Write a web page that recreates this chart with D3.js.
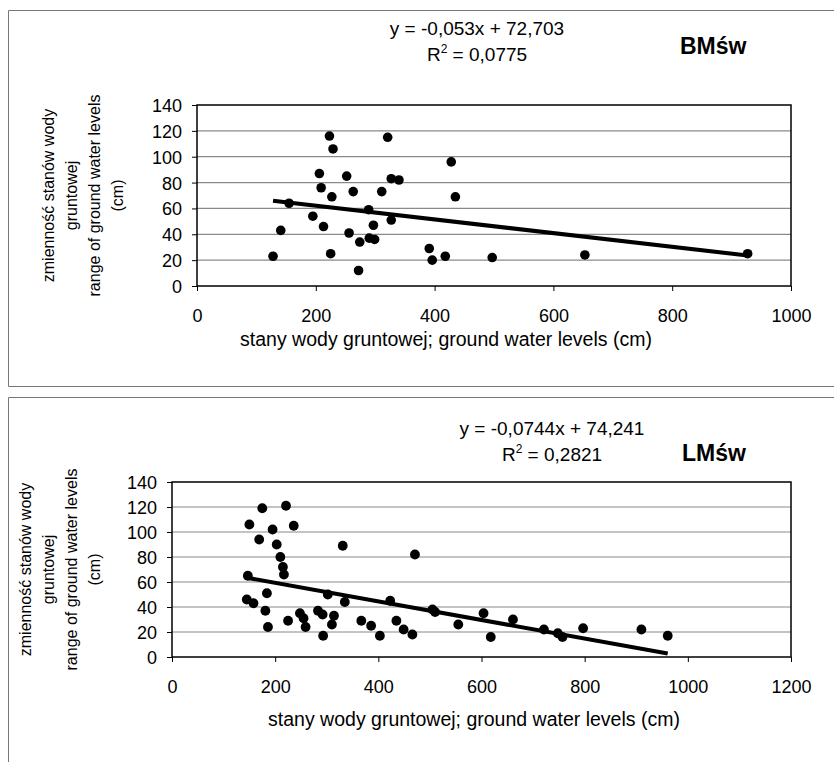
<!DOCTYPE html>
<html>
<head>
<meta charset="utf-8">
<script src="https://cdn.jsdelivr.net/npm/d3@7"></script>
<style>
  body { margin: 0; background: #fff; }
  text { font-family: "Liberation Sans", Arial, sans-serif; fill: #000; }
</style>
</head>
<body>
<svg id="chart" width="834" height="762"></svg>
<script>
// BMśw series: ground water level (cm) vs range of levels (cm)
const bmX = [223, 321, 229, 428, 206, 252, 327, 340, 209, 263, 311, 227, 435, 155, 289, 195, 327,
             213, 141, 297, 256, 274, 290, 299, 391, 128, 225, 396, 418, 497, 272, 653, 927];
const bmY = [116, 115, 106, 96, 87, 85, 83, 82, 76, 73, 73, 69, 69, 64, 59, 54, 51,
             46, 43, 47, 41, 34, 37, 36, 29, 23, 25, 20, 23, 22, 12, 24, 25];
const bmSlope = -0.053, bmIntercept = 72.703;
const bmEq = ["y = -0,053x + 72,703", "0,0775"];

// LMśw series
const lmX = [175, 221, 150, 236, 195, 169, 203, 331, 471, 210, 215, 217, 147, 184, 302, 335, 423,
             145, 158, 505, 510, 181, 248, 283, 292, 314, 255, 225, 367, 435, 604, 310, 386, 555,
             259, 186, 449, 466, 293, 403, 618, 661, 721, 748, 757, 797, 910, 961];
const lmY = [119, 121, 106, 105, 102, 94, 90, 89, 82, 80, 72, 66, 65, 51, 50, 44, 45,
             46, 43, 38, 36, 37, 35, 37, 34, 33, 31, 29, 29, 29, 35, 26, 25, 26,
             24, 24, 22, 18, 17, 17, 16, 30, 22, 19, 16, 23, 22, 17];
const lmSlope = -0.0744, lmIntercept = 74.241;
const lmEq = ["y = -0,0744x + 74,241", "0,2821"];

const yTicks = [0, 20, 40, 60, 80, 100, 120, 140];
const bmXTicks = [0, 200, 400, 600, 800, 1000];
const lmXTicks = [0, 200, 400, 600, 800, 1000, 1200];

const yLabel = ["zmienność stanów wody", "gruntowej", "range of ground water levels", "(cm)"];
const xLabel = "stany wody gruntowej; ground water levels (cm)";

const svg = d3.select("#chart");

// scanned page frames
const frame = svg.append("g").attr("stroke", "#777").attr("stroke-width", 1).attr("fill", "none");
frame.append("path").attr("d", "M834,10.5H8.5V386.5H834");
frame.append("path").attr("d", "M834,397.5H8.5V762");

function drawChart(cfg) {
  const g = svg.append("g");
  const x = d3.scaleLinear().domain([0, cfg.xTicks[cfg.xTicks.length - 1]]).range([cfg.left, cfg.right]);
  const y = d3.scaleLinear().domain([0, 140]).range([cfg.bottom, cfg.top]);

  // grid lines
  g.append("g").selectAll("line")
    .data(yTicks.filter(d => d > 0 && d < 140))
    .join("line")
    .attr("x1", cfg.left).attr("x2", cfg.right)
    .attr("y1", d => y(d)).attr("y2", d => y(d))
    .attr("stroke", "#8a8a8a").attr("stroke-width", 1.2);

  // plot frame
  g.append("rect")
    .attr("x", cfg.left).attr("y", cfg.top)
    .attr("width", cfg.right - cfg.left).attr("height", cfg.bottom - cfg.top)
    .attr("fill", "none").attr("stroke", "#000").attr("stroke-width", 1.5);

  const ya = g.append("g")
    .attr("transform", `translate(${cfg.left},0)`)
    .call(d3.axisLeft(y).tickValues(yTicks).tickFormat(d3.format("d")).tickSize(5).tickPadding(10));
  ya.select(".domain").remove();
  ya.selectAll("text").style("font-size", "18px").attr("dy", "0.36em");
  ya.selectAll("line").attr("stroke", "#000");

  const xa = g.append("g")
    .attr("transform", `translate(0,${cfg.bottom})`)
    .call(d3.axisBottom(x).tickValues(cfg.xTicks).tickFormat(d3.format("d")).tickSize(5));
  xa.select(".domain").remove();
  xa.selectAll("text").style("font-size", "18px").attr("y", 36).attr("dy", 0);
  xa.selectAll("line").attr("stroke", "#000");

  // points
  g.append("g").selectAll("circle")
    .data(cfg.xs.map((d, i) => [d, cfg.ys[i]]))
    .join("circle")
    .attr("cx", d => x(d[0])).attr("cy", d => y(d[1]))
    .attr("r", cfg.r).attr("fill", "#000");

  // linear trend line
  const ext = d3.extent(cfg.xs);
  g.append("line")
    .attr("x1", x(ext[0])).attr("y1", y(cfg.slope * ext[0] + cfg.intercept))
    .attr("x2", x(ext[1])).attr("y2", y(cfg.slope * ext[1] + cfg.intercept))
    .attr("stroke", "#000").attr("stroke-width", 4);

  // axis titles
  g.append("text")
    .attr("x", cfg.xTitleX).attr("y", cfg.xTitleY)
    .attr("text-anchor", "middle").style("font-size", "19.5px")
    .text(xLabel);

  const yt = g.append("text")
    .attr("transform", `translate(${cfg.yTitleX},${(cfg.top + cfg.bottom) / 2}) rotate(-90)`)
    .attr("text-anchor", "middle").style("font-size", "16px");
  yLabel.forEach((t, i) => {
    yt.append("tspan").attr("x", 0).attr("dy", i === 0 ? 0 : 23).text(t);
  });

  // equation and R²
  g.append("text")
    .attr("x", cfg.eqX).attr("y", cfg.eqY)
    .attr("text-anchor", "middle").style("font-size", "19px")
    .text(cfg.eq[0]);
  const r2 = g.append("text")
    .attr("x", cfg.eqX).attr("y", cfg.eqY + 26)
    .attr("text-anchor", "middle").style("font-size", "19px");
  r2.append("tspan").text("R");
  r2.append("tspan").attr("dy", -8).style("font-size", "12px").text("2");
  r2.append("tspan").attr("dy", 8).text(" = " + cfg.eq[1]);

  g.append("text")
    .attr("x", cfg.nameX).attr("y", cfg.nameY)
    .style("font-size", "23px").style("font-weight", "bold")
    .text(cfg.name);
}

drawChart({
  xs: bmX, ys: bmY, slope: bmSlope, intercept: bmIntercept, eq: bmEq, name: "BMśw",
  xTicks: bmXTicks, left: 197, right: 791, top: 105, bottom: 286, r: 4.8,
  xTitleX: 446, xTitleY: 346, yTitleX: 54, eqX: 477, eqY: 35, nameX: 680, nameY: 54
});

drawChart({
  xs: lmX, ys: lmY, slope: lmSlope, intercept: lmIntercept, eq: lmEq, name: "LMśw",
  xTicks: lmXTicks, left: 172, right: 791, top: 482, bottom: 657, r: 4.9,
  xTitleX: 474, xTitleY: 726, yTitleX: 31, eqX: 552, eqY: 435, nameX: 682, nameY: 461
});
</script>
</body>
</html>
